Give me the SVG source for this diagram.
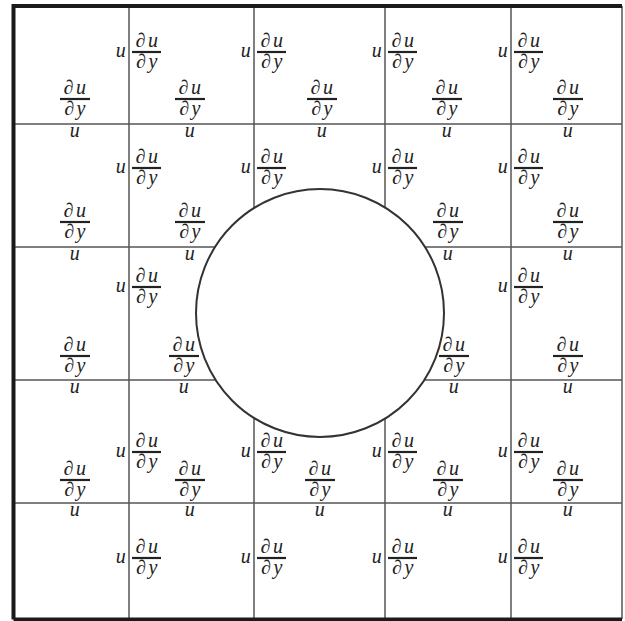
<svg xmlns="http://www.w3.org/2000/svg" width="625" height="621" viewBox="0 0 625 621">
<style>
.t{font-family:"Liberation Serif","DejaVu Serif",serif;font-style:italic;font-size:20px;fill:#222;text-anchor:middle;letter-spacing:2.5px}
.bar{stroke:#222;stroke-width:2.2}
.grid{stroke:#555;stroke-width:1.5;fill:none}
.border{stroke:#1a1a1a;stroke-width:4;fill:none}
</style>
<rect width="625" height="621" fill="#fff"/>
<g id="grid">
<line class="grid" x1="622" y1="6" x2="622" y2="619"/>
<line class="grid" x1="129" y1="6" x2="129" y2="619"/>
<line class="grid" x1="254" y1="6" x2="254" y2="619"/>
<line class="grid" x1="385" y1="6" x2="385" y2="619"/>
<line class="grid" x1="511" y1="6" x2="511" y2="619"/>
<line class="grid" x1="13" y1="124" x2="622" y2="124"/>
<line class="grid" x1="13" y1="247" x2="622" y2="247"/>
<line class="grid" x1="13" y1="380" x2="622" y2="380"/>
<line class="grid" x1="13" y1="503" x2="622" y2="503"/>
<path class="border" d="M13.5 619.5V6H622M13.5 619.5H622"/>
</g>
<g id="vertical-labels">
<g transform="translate(129,52)"><text class="t" x="-7" y="5">u</text><text class="t" x="19" y="-5">∂u</text><line class="bar" x1="3" x2="32"/><text class="t" x="19" y="16">∂y</text></g>
<g transform="translate(254,52)"><text class="t" x="-7" y="5">u</text><text class="t" x="19" y="-5">∂u</text><line class="bar" x1="3" x2="32"/><text class="t" x="19" y="16">∂y</text></g>
<g transform="translate(385,52)"><text class="t" x="-7" y="5">u</text><text class="t" x="19" y="-5">∂u</text><line class="bar" x1="3" x2="32"/><text class="t" x="19" y="16">∂y</text></g>
<g transform="translate(511,52)"><text class="t" x="-7" y="5">u</text><text class="t" x="19" y="-5">∂u</text><line class="bar" x1="3" x2="32"/><text class="t" x="19" y="16">∂y</text></g>
<g transform="translate(129,168)"><text class="t" x="-7" y="5">u</text><text class="t" x="19" y="-5">∂u</text><line class="bar" x1="3" x2="32"/><text class="t" x="19" y="16">∂y</text></g>
<g transform="translate(254,168)"><text class="t" x="-7" y="5">u</text><text class="t" x="19" y="-5">∂u</text><line class="bar" x1="3" x2="32"/><text class="t" x="19" y="16">∂y</text></g>
<g transform="translate(385,168)"><text class="t" x="-7" y="5">u</text><text class="t" x="19" y="-5">∂u</text><line class="bar" x1="3" x2="32"/><text class="t" x="19" y="16">∂y</text></g>
<g transform="translate(511,168)"><text class="t" x="-7" y="5">u</text><text class="t" x="19" y="-5">∂u</text><line class="bar" x1="3" x2="32"/><text class="t" x="19" y="16">∂y</text></g>
<g transform="translate(129,287)"><text class="t" x="-7" y="5">u</text><text class="t" x="19" y="-5">∂u</text><line class="bar" x1="3" x2="32"/><text class="t" x="19" y="16">∂y</text></g>
<g transform="translate(511,287)"><text class="t" x="-7" y="5">u</text><text class="t" x="19" y="-5">∂u</text><line class="bar" x1="3" x2="32"/><text class="t" x="19" y="16">∂y</text></g>
<g transform="translate(129,452)"><text class="t" x="-7" y="5">u</text><text class="t" x="19" y="-5">∂u</text><line class="bar" x1="3" x2="32"/><text class="t" x="19" y="16">∂y</text></g>
<g transform="translate(254,452)"><text class="t" x="-7" y="5">u</text><text class="t" x="19" y="-5">∂u</text><line class="bar" x1="3" x2="32"/><text class="t" x="19" y="16">∂y</text></g>
<g transform="translate(385,452)"><text class="t" x="-7" y="5">u</text><text class="t" x="19" y="-5">∂u</text><line class="bar" x1="3" x2="32"/><text class="t" x="19" y="16">∂y</text></g>
<g transform="translate(511,452)"><text class="t" x="-7" y="5">u</text><text class="t" x="19" y="-5">∂u</text><line class="bar" x1="3" x2="32"/><text class="t" x="19" y="16">∂y</text></g>
<g transform="translate(129,558)"><text class="t" x="-7" y="5">u</text><text class="t" x="19" y="-5">∂u</text><line class="bar" x1="3" x2="32"/><text class="t" x="19" y="16">∂y</text></g>
<g transform="translate(254,558)"><text class="t" x="-7" y="5">u</text><text class="t" x="19" y="-5">∂u</text><line class="bar" x1="3" x2="32"/><text class="t" x="19" y="16">∂y</text></g>
<g transform="translate(385,558)"><text class="t" x="-7" y="5">u</text><text class="t" x="19" y="-5">∂u</text><line class="bar" x1="3" x2="32"/><text class="t" x="19" y="16">∂y</text></g>
<g transform="translate(511,558)"><text class="t" x="-7" y="5">u</text><text class="t" x="19" y="-5">∂u</text><line class="bar" x1="3" x2="32"/><text class="t" x="19" y="16">∂y</text></g>
</g>
<g id="cell-labels">
<g transform="translate(75,99)"><text class="t" x="1" y="-5">∂u</text><line class="bar" x1="-15" x2="15"/><text class="t" x="1" y="16">∂y</text><text class="t" x="1" y="38">u</text></g>
<g transform="translate(190,99)"><text class="t" x="1" y="-5">∂u</text><line class="bar" x1="-15" x2="15"/><text class="t" x="1" y="16">∂y</text><text class="t" x="1" y="38">u</text></g>
<g transform="translate(322,99)"><text class="t" x="1" y="-5">∂u</text><line class="bar" x1="-15" x2="15"/><text class="t" x="1" y="16">∂y</text><text class="t" x="1" y="38">u</text></g>
<g transform="translate(447,99)"><text class="t" x="1" y="-5">∂u</text><line class="bar" x1="-15" x2="15"/><text class="t" x="1" y="16">∂y</text><text class="t" x="1" y="38">u</text></g>
<g transform="translate(568,99)"><text class="t" x="1" y="-5">∂u</text><line class="bar" x1="-15" x2="15"/><text class="t" x="1" y="16">∂y</text><text class="t" x="1" y="38">u</text></g>
<g transform="translate(75,222)"><text class="t" x="1" y="-5">∂u</text><line class="bar" x1="-15" x2="15"/><text class="t" x="1" y="16">∂y</text><text class="t" x="1" y="38">u</text></g>
<g transform="translate(190,222)"><text class="t" x="1" y="-5">∂u</text><line class="bar" x1="-15" x2="15"/><text class="t" x="1" y="16">∂y</text><text class="t" x="1" y="38">u</text></g>
<g transform="translate(448,222)"><text class="t" x="1" y="-5">∂u</text><line class="bar" x1="-15" x2="15"/><text class="t" x="1" y="16">∂y</text><text class="t" x="1" y="38">u</text></g>
<g transform="translate(568,222)"><text class="t" x="1" y="-5">∂u</text><line class="bar" x1="-15" x2="15"/><text class="t" x="1" y="16">∂y</text><text class="t" x="1" y="38">u</text></g>
<g transform="translate(75,356)"><text class="t" x="1" y="-5">∂u</text><line class="bar" x1="-15" x2="15"/><text class="t" x="1" y="16">∂y</text><text class="t" x="1" y="37">u</text></g>
<g transform="translate(184,356)"><text class="t" x="1" y="-5">∂u</text><line class="bar" x1="-15" x2="15"/><text class="t" x="1" y="16">∂y</text><text class="t" x="1" y="37">u</text></g>
<g transform="translate(454,356)"><text class="t" x="1" y="-5">∂u</text><line class="bar" x1="-15" x2="15"/><text class="t" x="1" y="16">∂y</text><text class="t" x="1" y="37">u</text></g>
<g transform="translate(568,356)"><text class="t" x="1" y="-5">∂u</text><line class="bar" x1="-15" x2="15"/><text class="t" x="1" y="16">∂y</text><text class="t" x="1" y="37">u</text></g>
<g transform="translate(75,480)"><text class="t" x="1" y="-5">∂u</text><line class="bar" x1="-15" x2="15"/><text class="t" x="1" y="16">∂y</text><text class="t" x="1" y="36">u</text></g>
<g transform="translate(190,480)"><text class="t" x="1" y="-5">∂u</text><line class="bar" x1="-15" x2="15"/><text class="t" x="1" y="16">∂y</text><text class="t" x="1" y="36">u</text></g>
<g transform="translate(320,480)"><text class="t" x="1" y="-5">∂u</text><line class="bar" x1="-15" x2="15"/><text class="t" x="1" y="16">∂y</text><text class="t" x="1" y="36">u</text></g>
<g transform="translate(448,480)"><text class="t" x="1" y="-5">∂u</text><line class="bar" x1="-15" x2="15"/><text class="t" x="1" y="16">∂y</text><text class="t" x="1" y="36">u</text></g>
<g transform="translate(568,480)"><text class="t" x="1" y="-5">∂u</text><line class="bar" x1="-15" x2="15"/><text class="t" x="1" y="16">∂y</text><text class="t" x="1" y="36">u</text></g>
</g>
<g id="cylinder">
<circle cx="320" cy="313" r="124" fill="#fff" stroke="#333" stroke-width="2"/>
</g>
</svg>
